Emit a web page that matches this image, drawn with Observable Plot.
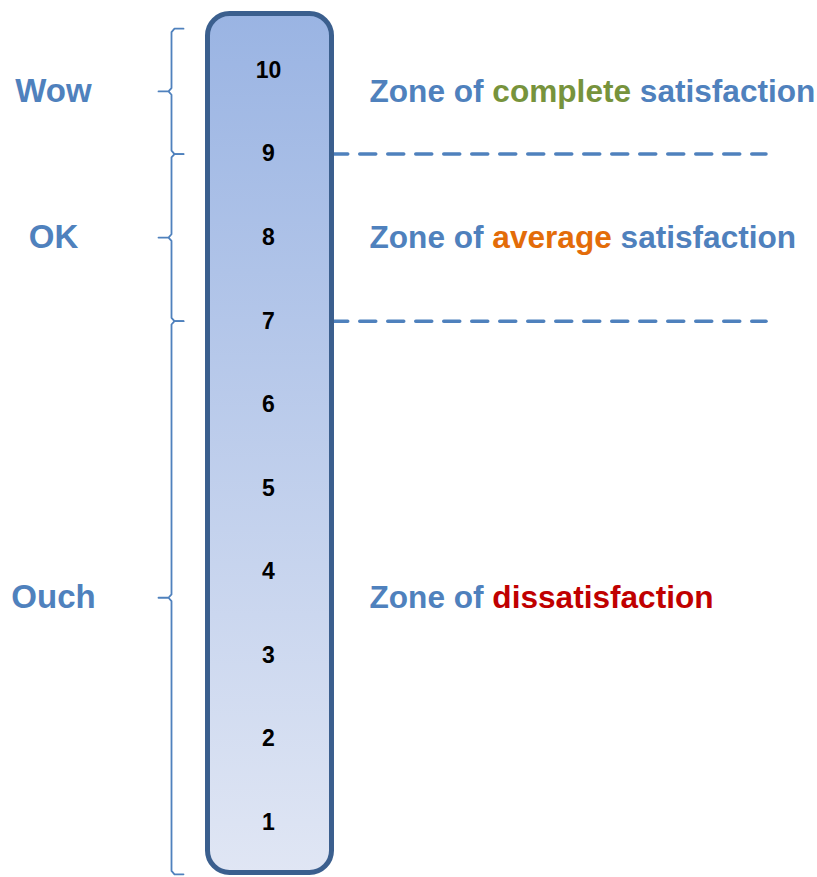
<!DOCTYPE html>
<html><head><meta charset="utf-8">
<script src="https://cdn.jsdelivr.net/npm/d3@7"></script>
<script src="https://cdn.jsdelivr.net/npm/@observablehq/plot@0.6"></script>
<style>html,body{margin:0;padding:0;background:#fff} svg{display:block}</style>
</head><body><div id="chart"></div>
<script>
// ---- data ----
const scores = [1, 2, 3, 4, 5, 6, 7, 8, 9, 10];
const zoneLabels = ["Ouch", "OK", "Wow"];
const zoneFrom = [0.38, 7, 9];
const zoneTo = [7, 9, 10.5];
const zoneKeywords = ["dissatisfaction", "average", "complete"];
const zoneSuffixes = ["", "satisfaction", "satisfaction"];
const thresholds = [7, 9];

// ---- styles ----
const BLUE = "#4F81BD";
const keyColor = {dissatisfaction: "#C00000", average: "#E36C09", complete: "#77933C"};
const FONT = "'Liberation Sans', Arial, sans-serif";

const zones = zoneLabels.map((label, i) => ({
  label, from: zoneFrom[i], to: zoneTo[i], mid: (zoneFrom[i] + zoneTo[i]) / 2,
  keyword: zoneKeywords[i], suffix: zoneSuffixes[i]
}));
const fullText = z => "Zone of " + z.keyword + (z.suffix ? " " + z.suffix : "");

// brace outline points (x in layout px, y in score units)
const r = 0.04;
const bracePoints = zones.flatMap(z => [
  {x: 183, y: z.to, z: z.label},
  {x: 174, y: z.to, z: z.label},
  {x: 171, y: z.to - r, z: z.label},
  {x: 171, y: z.mid + r, z: z.label},
  {x: 168, y: z.mid, z: z.label},
  {x: 158, y: z.mid, z: z.label},
  {x: 168, y: z.mid, z: z.label},
  {x: 171, y: z.mid - r, z: z.label},
  {x: 171, y: z.from + r, z: z.label},
  {x: 174, y: z.from, z: z.label},
  {x: 183, y: z.from, z: z.label}
]);

const barBottom = d3.min(scores) - 0.604;
const barTop = d3.max(scores) + 0.676;

const svg = Plot.plot({
  width: 817,
  height: 877,
  margin: 0,
  x: {domain: [0, 817], axis: null},
  y: {domain: [1, 10], range: [822, 70], axis: null},
  style: {fontFamily: FONT, background: "#fff"},
  marks: [
    Plot.ruleY(thresholds, {
      y: d => d, x1: 333, x2: 766, stroke: BLUE, strokeWidth: 3.5,
      strokeDasharray: "16 12", strokeDashoffset: 1.25, strokeLinecap: "round"
    }),
    Plot.line(bracePoints, {
      x: "x", y: "y", z: "z", stroke: BLUE, strokeWidth: 1.8, strokeLinejoin: "round"
    }),
    Plot.rect([0], {
      x1: 207.5, x2: 331.5, y1: barBottom, y2: barTop,
      fill: "url(#barGrad)", stroke: "#3B5F8E", strokeWidth: 5, rx: 22
    }),
    Plot.text(scores, {
      x: 268, y: d => d, text: d => String(d), fill: "#000",
      fontSize: 23, fontWeight: "bold"
    }),
    Plot.text(zones, {
      x: 53, y: "mid", text: "label", fill: BLUE, fontSize: 33, fontWeight: "bold"
    }),
    Plot.text(zones, {
      x: 369, y: "mid", text: fullText, textAnchor: "start", fill: BLUE,
      fontSize: 31.6, fontWeight: "bold"
    })
  ]
});

// gradient definition for the bar
const defs = d3.select(svg).insert("defs", ":first-child");
const grad = defs.append("linearGradient").attr("id", "barGrad")
  .attr("x1", 0).attr("y1", 0).attr("x2", 0).attr("y2", 1);
grad.append("stop").attr("offset", "0%").attr("stop-color", "#9AB4E3");
grad.append("stop").attr("offset", "100%").attr("stop-color", "#E0E6F4");

// colour the keyword inside each zone description
d3.select(svg).selectAll("text").filter(function () {
  return this.textContent.startsWith("Zone of ");
}).each(function () {
  const txt = this.textContent;
  const z = zones.find(zz => fullText(zz) === txt);
  if (!z) return;
  const sel = d3.select(this);
  sel.text(null);
  sel.append("tspan").text("Zone of ");
  sel.append("tspan").attr("fill", keyColor[z.keyword]).text(z.keyword);
  if (z.suffix) sel.append("tspan").text(" " + z.suffix);
});

document.getElementById("chart").appendChild(svg);
</script>
</body></html>
